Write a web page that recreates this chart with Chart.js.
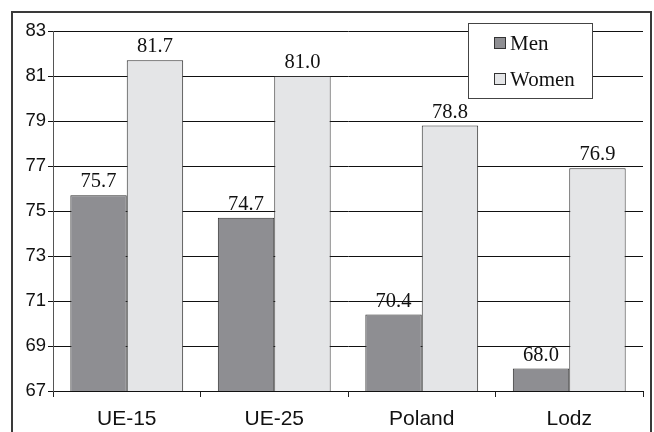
<!DOCTYPE html>
<html>
<head>
<meta charset="utf-8">
<script src="https://cdn.jsdelivr.net/npm/chart.js@4/dist/chart.umd.min.js"></script>
<style>
  html, body { margin: 0; padding: 0; background: #fff; overflow: hidden; }
  #wrap { position: relative; width: 654px; height: 432px; }
  #frame { position: absolute; left: 11px; top: 11px; width: 641px; height: 440px; border: 2px solid #3a3a3a; box-sizing: border-box; }
  canvas { position: absolute; left: 0; top: 0; }
</style>
</head>
<body>
<div id="wrap">
  <div id="frame"></div>
  <canvas id="c" width="654" height="432"></canvas>
</div>
<script>
const categories = ["UE-15", "UE-25", "Poland", "Lodz"];
const menValues = [75.7, 74.7, 70.4, 68.0];
const womenValues = [81.7, 81.0, 78.8, 76.9];
const seriesNames = ["Men", "Women"];
const yMin = 67, yMax = 83, yStep = 2;

const valueLabels = {
  id: 'valueLabels',
  afterDatasetsDraw(chart) {
    const ctx = chart.ctx;
    ctx.save();
    ctx.font = '20.5px "Liberation Serif", "Times New Roman", serif';
    ctx.fillStyle = '#111';
    ctx.textAlign = 'center';
    ctx.textBaseline = 'alphabetic';
    chart.data.datasets.forEach((ds, i) => {
      const meta = chart.getDatasetMeta(i);
      meta.data.forEach((bar, j) => {
        ctx.fillText(ds.data[j].toFixed(1), bar.x, bar.y - 8);
      });
    });
    ctx.restore();
  }
};

const boxLegend = {
  id: 'boxLegend',
  afterDraw(chart) {
    const ctx = chart.ctx;
    ctx.save();
    const x0 = 468.5, y0 = 23.5, w = 124, h = 75;
    ctx.fillStyle = '#fff';
    ctx.fillRect(x0, y0, w, h);
    ctx.strokeStyle = '#444';
    ctx.lineWidth = 1;
    ctx.strokeRect(x0, y0, w, h);
    ctx.font = '21px "Liberation Serif", "Times New Roman", serif';
    ctx.textBaseline = 'middle';
    ctx.textAlign = 'left';
    chart.data.datasets.forEach((ds, i) => {
      const cy = 43 + i * 36;
      ctx.fillStyle = ds.backgroundColor;
      ctx.fillRect(494.5, cy - 5.5, 11, 11);
      ctx.strokeStyle = '#333';
      ctx.strokeRect(494.5, cy - 5.5, 11, 11);
      ctx.fillStyle = '#111';
      ctx.fillText(ds.label, 510, cy + 1);
    });
    ctx.restore();
  }
};

new Chart(document.getElementById('c'), {
  type: 'bar',
  data: {
    labels: categories,
    datasets: [
      { label: seriesNames[0], data: menValues, backgroundColor: '#8e8e92', borderColor: '#2e2e2e', borderWidth: 1, categoryPercentage: 0.765, barPercentage: 1.0 },
      { label: seriesNames[1], data: womenValues, backgroundColor: '#e4e5e7', borderColor: '#2e2e2e', borderWidth: 1, categoryPercentage: 0.765, barPercentage: 1.0 }
    ]
  },
  options: {
    responsive: false,
    animation: false,
    devicePixelRatio: 1,
    layout: { padding: { left: 0, top: 31, right: 11, bottom: 0 } },
    plugins: { legend: { display: false }, tooltip: { enabled: false } },
    scales: {
      x: {
        grid: { display: true, drawOnChartArea: false, drawTicks: true, tickLength: 6, color: '#222', offset: true },
        border: { display: true, color: '#111', width: 1 },
        ticks: { color: '#111', font: { family: '"Liberation Sans", Arial, sans-serif', size: 21 }, padding: 10 },
        afterFit(scale) { scale.height = 41; }
      },
      y: {
        min: yMin, max: yMax,
        grid: { color: '#111', lineWidth: 1, tickLength: 5, drawTicks: true },
        border: { display: true, color: '#555', width: 1 },
        ticks: { stepSize: yStep, color: '#111', font: { family: '"Liberation Sans", Arial, sans-serif', size: 18.5 }, padding: 2 },
        afterFit(scale) { scale.width = 53; }
      }
    }
  },
  plugins: [valueLabels, boxLegend]
});
</script>
</body>
</html>
